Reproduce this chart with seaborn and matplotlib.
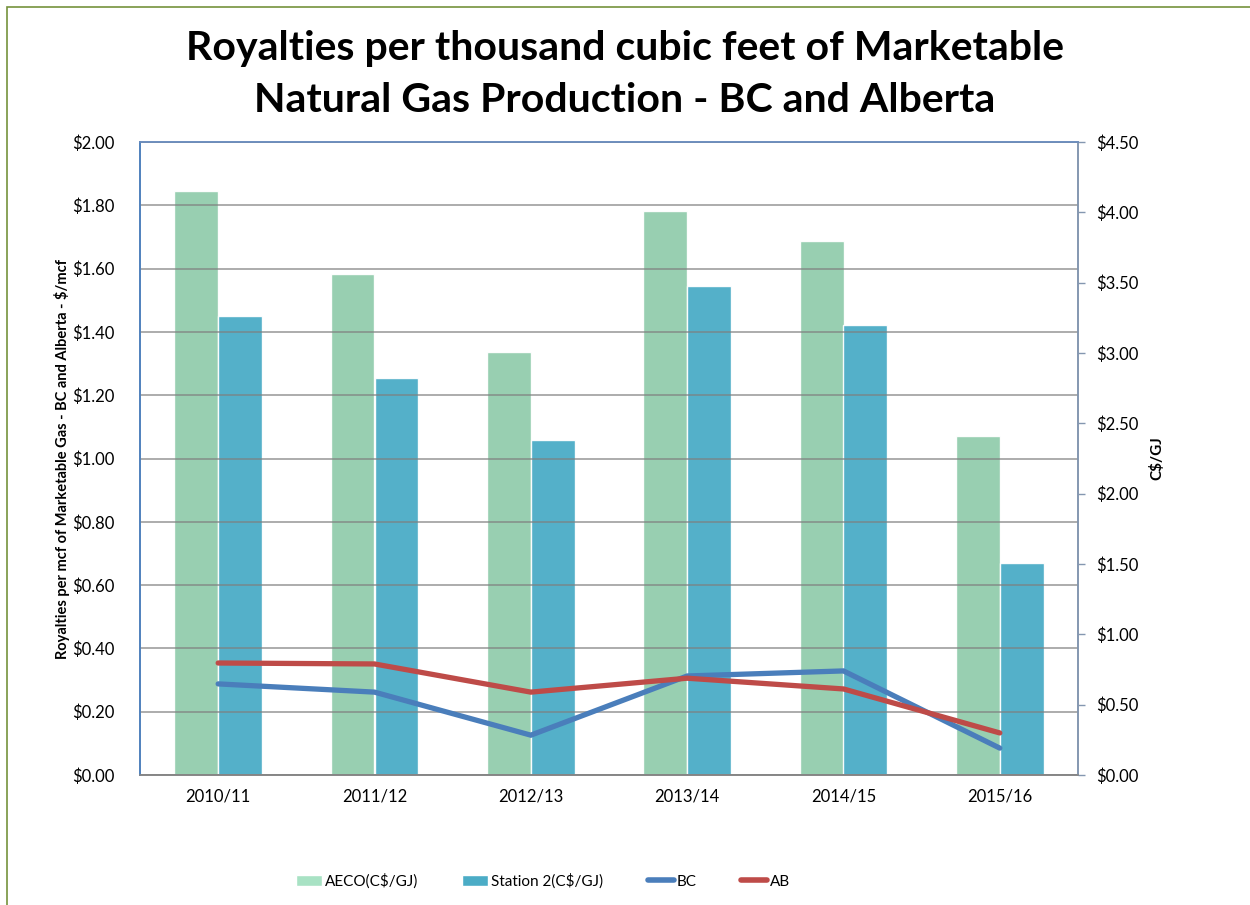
import matplotlib
matplotlib.use("Agg")
import matplotlib.pyplot as plt
import matplotlib.ticker as mticker
from matplotlib.patches import Patch, Rectangle
from matplotlib.lines import Line2D
import seaborn as sns
import pandas as pd

years = ["2010/11", "2011/12", "2012/13", "2013/14", "2014/15", "2015/16"]
aeco = [4.15, 3.56, 3.01, 4.01, 3.80, 2.41]
station2 = [3.26, 2.82, 2.38, 3.48, 3.20, 1.51]
bc = [0.288, 0.262, 0.126, 0.313, 0.329, 0.085]
ab = [0.354, 0.351, 0.262, 0.306, 0.272, 0.133]

bar_names = ["AECO(C\\$/GJ)", "Station 2(C\\$/GJ)"]
bar_colors = ["#93CDAD", "#4BACC6"]
line_colors = {"BC": "#4A7EBB", "AB": "#BE4B48"}

bars = pd.DataFrame({
    "year": years * 2,
    "series": [bar_names[0]] * len(years) + [bar_names[1]] * len(years),
    "price": aeco + station2,
})
lines = pd.DataFrame({
    "year": years * 2,
    "series": ["BC"] * len(years) + ["AB"] * len(years),
    "royalty": bc + ab,
})

sns.set_style("white")
plt.rcParams["font.family"] = ["Lato", "DejaVu Sans"]
plt.rcParams["text.color"] = "black"
plt.rcParams["axes.labelcolor"] = "black"
plt.rcParams["xtick.color"] = "black"
plt.rcParams["ytick.color"] = "black"

fig = plt.figure(figsize=(12.5, 9.05), dpi=100)
ax = fig.add_axes([0.112, 0.1436, 0.7504, 0.6994])

# bars on the C$/GJ scale (shown on the right)
sns.barplot(data=bars, x="year", y="price", hue="series", order=years,
            palette=bar_colors, saturation=1, width=0.56, edgecolor="white",
            linewidth=1, alpha=0.95, legend=False, ax=ax)
ax.set_ylim(0, 4.5)
ax.set_xlim(-0.5, len(years) - 0.5)
ax.set_xlabel("")

# lines on the $/mcf scale (shown on the left)
ax2 = ax.twinx()
sns.lineplot(data=lines, x="year", y="royalty", hue="series",
             palette=line_colors, linewidth=3.8, legend=False, ax=ax2,
             solid_capstyle="round", solid_joinstyle="miter")
ax2.set_ylim(0, 2.0)
ax2.set_xlim(-0.5, len(years) - 0.5)
ax2.yaxis.set_major_locator(mticker.MultipleLocator(0.2))
ax2.yaxis.set_major_formatter(mticker.FuncFormatter(lambda v, p: f"${v:.2f}"))
ax2.yaxis.tick_left()
ax2.yaxis.set_label_position("left")
ax2.set_ylabel("Royalties per mcf of Marketable Gas - BC and Alberta - \\$/mcf",
               fontsize=10.5, fontweight="bold", labelpad=2)
ax2.tick_params(axis="y", length=0, labelsize=12, pad=18)
ax2.xaxis.set_minor_locator(mticker.FixedLocator([i + 0.5 for i in range(len(years) - 1)]))
ax2.grid(True, axis="y", which="major", color="#7F7F7F", linewidth=1.2, alpha=0.75)
ax2.grid(True, axis="x", which="minor", color="#7F7F7F", linewidth=1.2, alpha=0.75)
ax2.tick_params(axis="x", which="both", length=0)

# right axis set after twinx (twinx resets the tick side)
ax.yaxis.tick_right()
ax.yaxis.set_label_position("right")
ax.yaxis.set_major_locator(mticker.MultipleLocator(0.5))
ax.yaxis.set_major_formatter(mticker.FuncFormatter(lambda v, p: f"${v:.2f}"))
ax.set_ylabel("C\\$/GJ", fontsize=11, fontweight="bold", labelpad=8)
ax.tick_params(axis="y", which="major", left=False, right=True, labelleft=False,
               labelright=True, length=5, width=1, color="#8497B0",
               labelsize=12, pad=8)
ax.tick_params(axis="x", length=0, labelsize=12, pad=10)

for a in (ax, ax2):
    a.spines["left"].set_color("#4F81BD")
    a.spines["top"].set_color("#6C8EBF")
    a.spines["right"].set_color("#8497B0")
    a.spines["bottom"].set_color("#868686")
    for s in a.spines.values():
        s.set_linewidth(1.2)
        s.set_visible(True)

fig.suptitle("Royalties per thousand cubic feet of Marketable\nNatural Gas Production - BC and Alberta",
             fontsize=29.5, fontweight="bold", y=0.967, linespacing=1.5)

handles = [Patch(facecolor="#A8E2C4", edgecolor="white"),
           Patch(facecolor=bar_colors[1], edgecolor="white"),
           Line2D([], [], color=line_colors["BC"], linewidth=4, solid_capstyle="round"),
           Line2D([], [], color=line_colors["AB"], linewidth=4, solid_capstyle="round")]
fig.legend(handles, bar_names + ["BC", "AB"], loc="center",
           bbox_to_anchor=(543 / 1250, 1 - 881 / 905), ncol=4, frameon=False,
           fontsize=11, handlelength=1.7, handleheight=0.7, handletextpad=0.2,
           columnspacing=2.9)

fig.patches.append(Rectangle((7 / 1250, -0.1), 1.2, 1 - 7 / 905 + 0.1,
                             transform=fig.transFigure, fill=False,
                             edgecolor="#76923C", linewidth=1.2))

fig.savefig("out.png", dpi=100)
